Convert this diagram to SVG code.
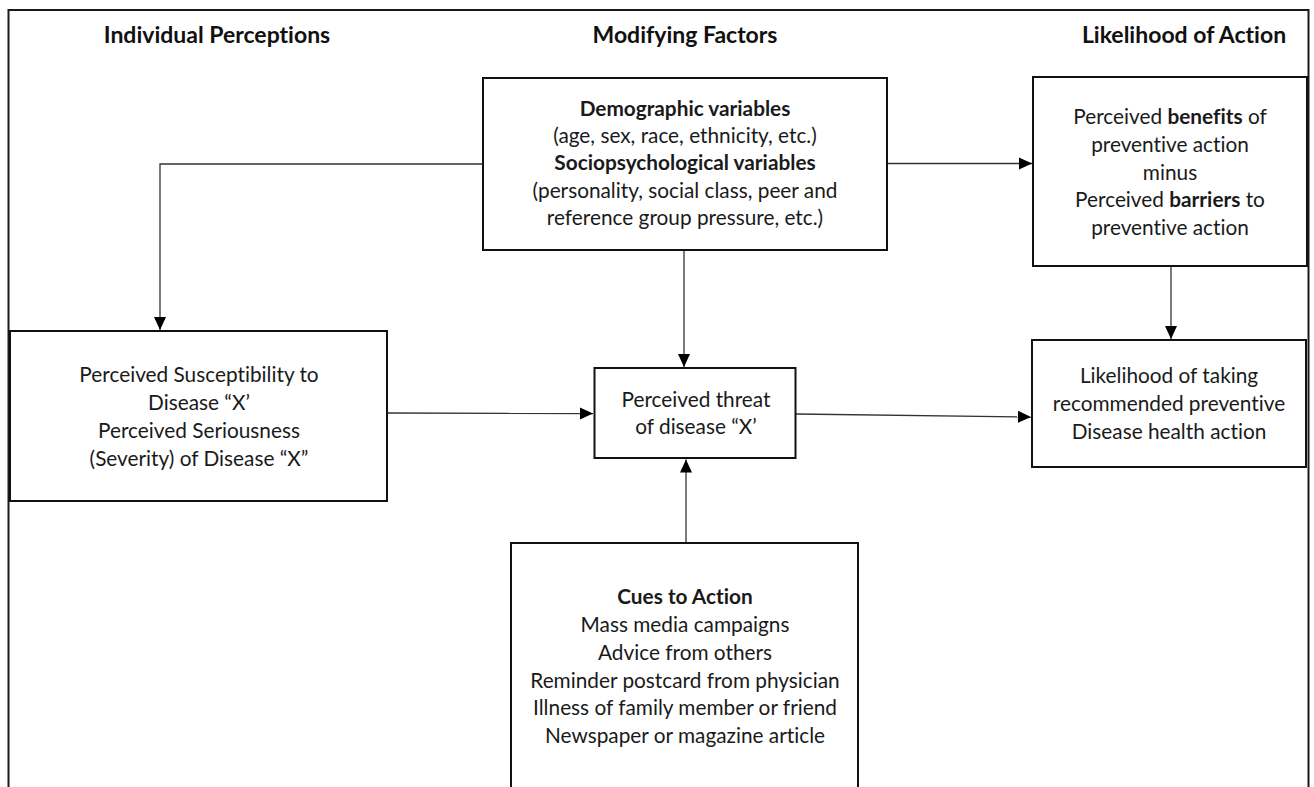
<svg xmlns="http://www.w3.org/2000/svg" width="1314" height="787" viewBox="0 0 1314 787">
  <style>
    .frame { fill: none; stroke: #1a1a1a; stroke-width: 2; }
    .box { fill: #ffffff; stroke: #111111; stroke-width: 2; }
    .conn { fill: none; stroke: #333333; stroke-width: 1.3; }
    .t { font-family: Lato, "Liberation Sans", sans-serif; font-size: 20.8px; fill: #1a1a1a; text-anchor: middle; font-variant-ligatures: none; }
    .b { font-weight: bold; }
    .title { font-family: Lato, "Liberation Sans", sans-serif; font-size: 23px; font-weight: bold; fill: #111111; text-anchor: middle; font-variant-ligatures: none; }
  </style>
  <defs>
    <marker id="arrow" markerUnits="userSpaceOnUse" markerWidth="14" markerHeight="14" viewBox="0 0 14 14" refX="13" refY="7" orient="auto">
      <path d="M0,1 L13,7 L0,13 Z" fill="#000000"/>
    </marker>
  </defs>

  <rect width="1314" height="787" fill="#ffffff"/>

  <!-- outer frame, open at the bottom -->
  <path class="frame" d="M8.5,800 V10 H1308.5 V800"/>

  <!-- column headings -->
  <g id="headings">
    <text class="title" x="217" y="43">Individual Perceptions</text>
    <text class="title" x="685" y="43">Modifying Factors</text>
    <text class="title" x="1184" y="43">Likelihood of Action</text>
  </g>

  <!-- connectors -->
  <g id="connectors">
    <path class="conn" d="M483,164 H160 V330" marker-end="url(#arrow)"/>
    <path class="conn" d="M887,163.5 H1032" marker-end="url(#arrow)"/>
    <path class="conn" d="M684,250 V367" marker-end="url(#arrow)"/>
    <path class="conn" d="M1171,266 V339" marker-end="url(#arrow)"/>
    <path class="conn" d="M387,413 L593,413.5" marker-end="url(#arrow)"/>
    <path class="conn" d="M796,414 L1031,417" marker-end="url(#arrow)"/>
    <path class="conn" d="M686,543 V459.5" marker-end="url(#arrow)"/>
  </g>

  <g id="modifying">
    <rect class="box" x="483" y="78" width="404" height="172"/>
    <text class="t b" x="685" y="116">Demographic variables</text>
    <text class="t" x="685" y="143">(age, sex, race, ethnicity, etc.)</text>
    <text class="t b" x="685" y="170">Sociopsychological variables</text>
    <text class="t" x="685" y="198">(personality, social class, peer and</text>
    <text class="t" x="685" y="225">reference group pressure, etc.)</text>
  </g>

  <g id="benefits">
    <rect class="box" x="1033" y="77" width="274" height="189"/>
    <text class="t" x="1170" y="124">Perceived <tspan class="b">benefits</tspan> of</text>
    <text class="t" x="1170" y="152">preventive action</text>
    <text class="t" x="1170" y="180">minus</text>
    <text class="t" x="1170" y="207">Perceived <tspan class="b">barriers</tspan> to</text>
    <text class="t" x="1170" y="235">preventive action</text>
  </g>

  <g id="susceptibility">
    <rect class="box" x="10" y="331" width="377" height="170"/>
    <text class="t" x="199" y="382">Perceived Susceptibility to</text>
    <text class="t" x="199" y="410">Disease “X’</text>
    <text class="t" x="199" y="438">Perceived Seriousness</text>
    <text class="t" x="199" y="466">(Severity) of Disease “X”</text>
  </g>

  <g id="threat">
    <rect class="box" x="594.5" y="368" width="201" height="90"/>
    <text class="t" x="696" y="407">Perceived threat</text>
    <text class="t" x="696" y="434">of disease “X’</text>
  </g>

  <g id="likelihood">
    <rect class="box" x="1032" y="340" width="274" height="127"/>
    <text class="t" x="1169" y="383">Likelihood of taking</text>
    <text class="t" x="1169" y="411">recommended preventive</text>
    <text class="t" x="1169" y="439">Disease health action</text>
  </g>

  <g id="cues">
    <rect class="box" x="511" y="543" width="347" height="270"/>
    <text class="t b" x="685" y="604">Cues to Action</text>
    <text class="t" x="685" y="632">Mass media campaigns</text>
    <text class="t" x="685" y="660">Advice from others</text>
    <text class="t" x="685" y="688">Reminder postcard from physician</text>
    <text class="t" x="685" y="715">Illness of family member or friend</text>
    <text class="t" x="685" y="743">Newspaper or magazine article</text>
  </g>
</svg>
